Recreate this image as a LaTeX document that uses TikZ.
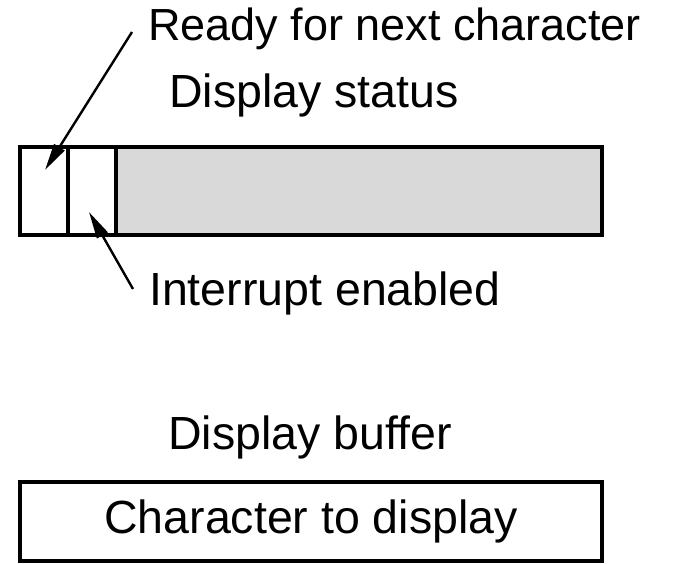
\documentclass[tikz,border=0pt]{standalone}
\usepackage{fontspec}
\setmainfont{Liberation Sans}
\usetikzlibrary{arrows.meta,positioning,calc}

\begin{document}
\begin{tikzpicture}[
  x=1pt,
  y=-1pt,
  >={Triangle[length=27pt,width=12pt]},
  field/.style={draw,line width=3.6pt,minimum height=88pt,inner sep=0pt,outer sep=0pt},
  caption/.style={font=\fontsize{46.5}{52}\selectfont,inner sep=0pt},
  pointer/.style={->,line width=2.4pt}
]
\useasboundingbox (0,0) rectangle (676,563);

% display status register
\node[field,anchor=north west,minimum width=48pt] (ready) at (20,147) {};
\node[field,anchor=north west,minimum width=48pt] (intr) at (ready.north east) {};
\node[field,anchor=north west,minimum width=486pt,fill=gray!30] (rest) at (intr.north east) {};

\node[caption,anchor=base west,font=\fontsize{45}{50}\selectfont] (readytext) at (148,40) {Ready for next character};
\node[caption,anchor=base west] (status) at (169,107) {Display status};
\node[caption,anchor=base west] (intrtext) at (149,305) {Interrupt enabled};

\coordinate (readytail) at (132,32);
\coordinate (readytip) at (45,170);
\coordinate (intrtail) at (133,289);
\coordinate (intrtip) at (89,212);

\draw[pointer] (readytail) -- (readytip);
\draw[pointer] (intrtail) -- (intrtip);

% display buffer register
\node[caption,anchor=base west] (buftext) at (168,449) {Display buffer};
\node[field,anchor=north west,minimum width=582pt,minimum height=79pt,
  font=\fontsize{46.5}{52}\selectfont] (buffer) at (20,482) {Character to display};

\end{tikzpicture}
\end{document}
